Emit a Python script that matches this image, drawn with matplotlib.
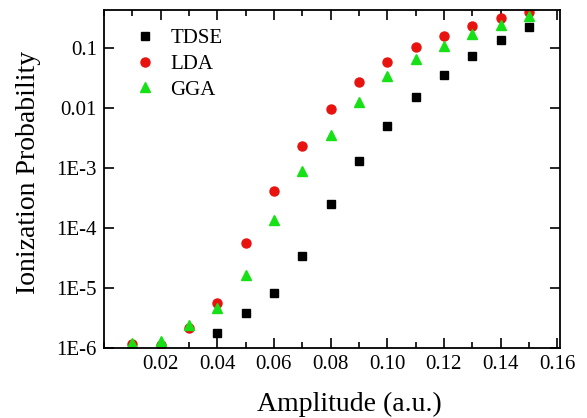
import matplotlib
matplotlib.use("Agg")
import matplotlib.pyplot as plt
import matplotlib.ticker as mticker
import numpy as np

plt.rcParams['font.family'] = ['Liberation Serif', 'DejaVu Serif']

# Data
amp = [0.01, 0.02, 0.03, 0.04, 0.05, 0.06, 0.07, 0.08, 0.09, 0.10, 0.11, 0.12, 0.13, 0.14, 0.15]
tdse_amp = [0.04, 0.05, 0.06, 0.07, 0.08, 0.09, 0.10, 0.11, 0.12, 0.13, 0.14, 0.15]
tdse = [1.76e-6, 3.9e-6, 8.3e-6, 3.4e-5, 2.5e-4, 1.32e-3, 5.1e-3, 0.0151, 0.036, 0.0736, 0.136, 0.221]
lda = [1.15e-6, 1.12e-6, 2.18e-6, 5.7e-6, 5.7e-5, 4.1e-4, 2.35e-3, 9.6e-3, 0.0275, 0.0577, 0.103, 0.160, 0.230, 0.313, 0.40]
gga = [1.2e-6, 1.32e-6, 2.42e-6, 4.6e-6, 1.65e-5, 1.36e-4, 8.8e-4, 3.6e-3, 0.0127, 0.0337, 0.0664, 0.108, 0.173, 0.242, 0.34]

ytick_vals = [1e-6, 1e-5, 1e-4, 1e-3, 1e-2, 1e-1]
ytick_labels = ["1E-6", "1E-5", "1E-4", "1E-3", "0.01", "0.1"]
xtick_vals = [0.02, 0.04, 0.06, 0.08, 0.10, 0.12, 0.14, 0.16]
xtick_labels = ["0.02", "0.04", "0.06", "0.08", "0.10", "0.12", "0.14", "0.16"]

fig = plt.figure(figsize=(5.87, 4.18), dpi=100)
ax = fig.add_axes([0.177, 0.1675, 0.777, 0.8085])

ax.plot(tdse_amp, tdse, linestyle="none", marker="s", color="black", markersize=5.5, label="TDSE")
ax.plot(amp, lda, linestyle="none", marker="o", color="#e8120f", markersize=6.5, label="LDA")
ax.plot(amp, gga, linestyle="none", marker="^", color="#16e016", markersize=7, label="GGA")

ax.set_yscale("log")
ax.set_xlim(0, 0.161)
ax.set_ylim(1e-6, 0.43)
ax.set_yticks(ytick_vals)
ax.set_yticklabels(ytick_labels)
ax.yaxis.set_minor_locator(mticker.NullLocator())
ax.set_xticks(xtick_vals)
ax.set_xticklabels(xtick_labels)
ax.xaxis.set_minor_locator(mticker.MultipleLocator(0.01))

ax.tick_params(which="major", direction="in", length=7, width=1.2, top=True, right=True, labelsize=15, pad=5)
ax.tick_params(which="minor", direction="in", length=4, width=1.2, top=True, right=True)
for s in ax.spines.values():
    s.set_linewidth(1.3)

ax.set_xlabel("Amplitude (a.u.)", fontsize=20, labelpad=13)
ax.set_ylabel("Ionization Probability", fontsize=20, labelpad=11)
ax.xaxis.label.set_x(0.539)
ax.yaxis.label.set_y(0.52)

ax.legend(loc="upper left", frameon=False, fontsize=15, handletextpad=0.6,
          borderaxespad=0.0, labelspacing=0.3, handlelength=1.2,
          bbox_to_anchor=(0.045, 0.97))

fig.savefig("out.png", dpi=100)
